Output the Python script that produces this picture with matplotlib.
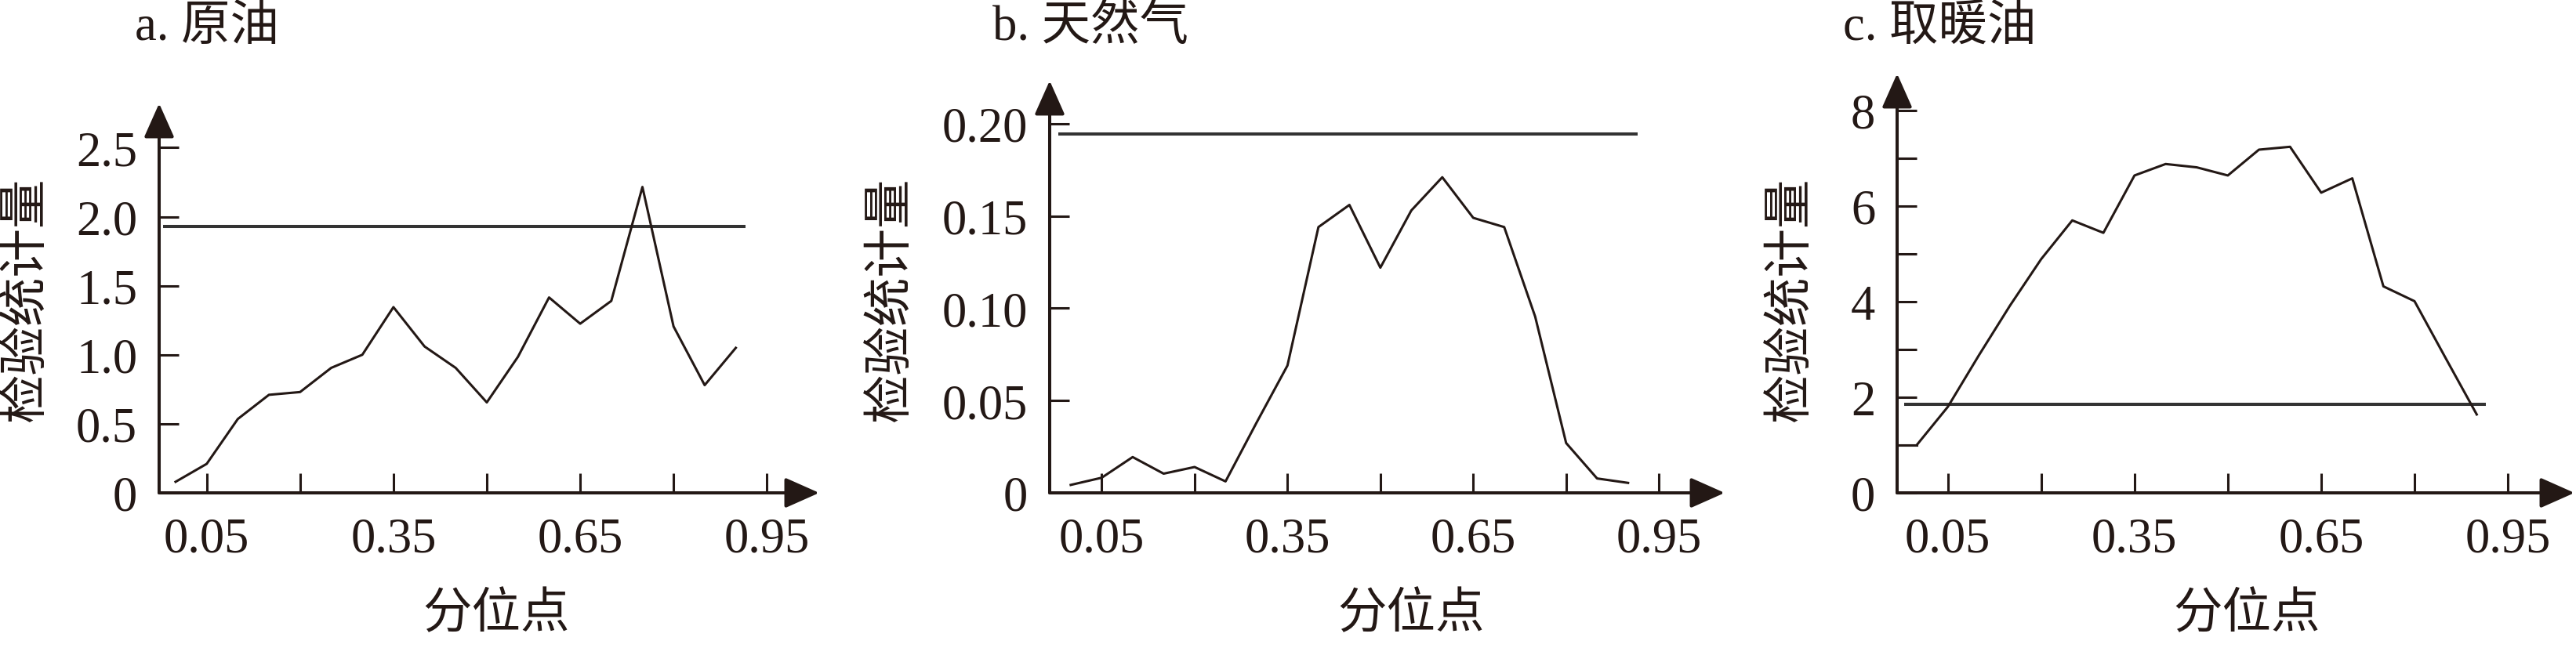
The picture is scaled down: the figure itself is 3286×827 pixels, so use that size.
import matplotlib
matplotlib.use('Agg')
import matplotlib.pyplot as plt
from matplotlib.patches import ArrowStyle

plt.rcParams['font.family'] = ['Liberation Serif', 'Noto Sans CJK SC']
INK = '#231815'

# ---------------- data ----------------
quantile_pos = [0.00, 0.05, 0.10, 0.15, 0.20, 0.25, 0.30, 0.35, 0.40, 0.45,
                0.50, 0.55, 0.60, 0.65, 0.70, 0.75, 0.80, 0.85, 0.90]

crude_stat = [0.08, 0.21, 0.535, 0.71, 0.73, 0.905, 1.00, 1.345, 1.06, 0.905,
              0.655, 0.985, 1.415, 1.225, 1.39, 2.215, 1.205, 0.78, 1.05]
gas_stat = [0.0043, 0.0082, 0.0194, 0.0104, 0.0140, 0.0062, 0.038, 0.069, 0.144, 0.156,
            0.122, 0.153, 0.171, 0.149, 0.144, 0.0955, 0.027, 0.0078, 0.0054]
heating_stat = [1.00, 1.80, 2.88, 3.92, 4.89, 5.70, 5.44, 6.64, 6.88, 6.81,
                6.64, 7.18, 7.24, 6.28, 6.58, 4.32, 4.01, 2.82, 1.64]

crit_values = [1.93, 0.1946, 1.85]
crit_span = [-0.02, 0.915]

xtick_pos = [0.05, 0.20, 0.35, 0.50, 0.65, 0.80, 0.95]
xtick_labels = ['0.05', '', '0.35', '', '0.65', '', '0.95']

titles = ['a. 原油', 'b. 天然气', 'c. 取暖油']
ylabel_text = '检验统计量'
xlabel_text = '分位点'

yticks_a = [0, 0.5, 1.0, 1.5, 2.0, 2.5]
ylabels_a = ['0', '0.5', '1.0', '1.5', '2.0', '2.5']
yticks_b = [0, 0.05, 0.10, 0.15, 0.20]
ylabels_b = ['0', '0.05', '0.10', '0.15', '0.20']
yticks_c = [0, 1, 2, 3, 4, 5, 6, 7, 8]
ylabels_c = ['0', '', '2', '', '4', '', '6', '', '8']

# ---------------- layout (pixels in a 3286x828 canvas) ----------------
W, H = 3286, 828
panels = [
    dict(series=crude_stat, crit=crit_values[0], yt=yticks_a, yl=ylabels_a,
         px=(203, 1045, 630, 133), xlim=(-0.0264, 1.034), ylim=(0, 2.82),
         ylab_x=36, xlab_x=633, title_x=172, lead=False),
    dict(series=gas_stat, crit=crit_values[1], yt=yticks_b, yl=ylabels_b,
         px=(1339, 2200, 630, 104), xlim=(-0.034, 1.056), ylim=(0, 0.2233),
         ylab_x=1139, xlab_x=1800, title_x=1266, lead=False),
    dict(series=heating_stat, crit=crit_values[2], yt=yticks_c, yl=ylabels_c,
         px=(2420, 3284, 630, 95), xlim=(-0.0315, 1.057), ylim=(0, 8.77),
         ylab_x=2287, xlab_x=2866, title_x=2351, lead=True),
]

fig = plt.figure(figsize=(W / 100, H / 100), dpi=100)
FS = 45

for p, title in zip(panels, titles):
    x0, x1, yb, yt = p['px']
    ax = fig.add_axes([x0 / W, 1 - yb / H, (x1 - x0) / W, (yb - yt) / H])
    ax.set_xlim(*p['xlim'])
    ax.set_ylim(*p['ylim'])
    for s in ax.spines.values():
        s.set_visible(False)
    ax.patch.set_alpha(0)

    # axes with arrow heads
    style = ArrowStyle('-|>', head_length=1.35, head_width=0.6)
    for tip in [(1, 0), (0, 1)]:
        ax.annotate('', xy=tip, xytext=(0, 0), xycoords='axes fraction',
                    textcoords='axes fraction', annotation_clip=False,
                    arrowprops=dict(arrowstyle=style, mutation_scale=20, lw=2.9,
                                    color=INK, shrinkA=0, shrinkB=0))

    ax.set_xticks(xtick_pos)
    ax.set_xticklabels(xtick_labels)
    ax.set_yticks(p['yt'])
    ax.set_yticklabels(p['yl'])
    ax.tick_params(axis='both', direction='in', length=18, width=2.2, color=INK,
                   labelsize=FS, labelcolor=INK)
    ax.tick_params(axis='y', pad=20)
    ax.tick_params(axis='x', pad=22)

    # critical value line
    ax.plot(crit_span, [p['crit'], p['crit']], color='#333333', lw=2.9,
            solid_capstyle='butt')
    # statistic curve
    ys = p['series']
    if p['lead']:
        ax.plot([p['xlim'][0], quantile_pos[0]], [ys[0], ys[0]], color=INK, lw=2.2)
    ax.plot(quantile_pos, ys, color=INK, lw=2.2)

    fig.text(p['ylab_x'] / W, 1 - 382 / H, ylabel_text, rotation=90,
             ha='center', va='center', fontsize=FS, color=INK)
    fig.text(p['xlab_x'] / W, 1 - 786 / H, xlabel_text,
             ha='center', va='center', fontsize=FS, color=INK)
    fig.text(p['title_x'] / W, 1 - 36 / H, title,
             ha='left', va='center', fontsize=FS, color=INK)

fig.savefig('out.png', dpi=100)
